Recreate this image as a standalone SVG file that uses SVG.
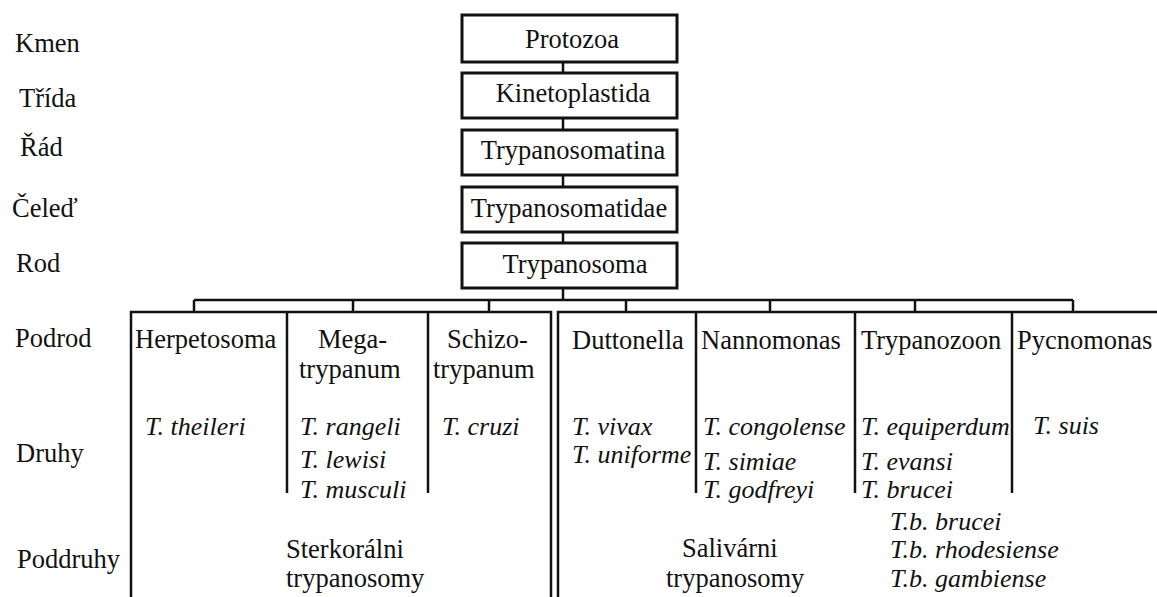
<svg xmlns="http://www.w3.org/2000/svg" width="1157" height="597" viewBox="0 0 1157 597">
<style>
.ln{stroke:#111;stroke-width:2.5;fill:none}
.box{fill:#fff;stroke:#111;stroke-width:3}
</style>
<rect width="1157" height="597" fill="#fff"/>
<g id="connectors" class="ln">
<path d="M563 62V73M563 118V130M563 175V187M563 232V243M563 288V300"/>
<path d="M194 300H1073M194 300V312M353 300V312M489 300V312M626 300V312M770 300V312M915 300V312M1073 300V312"/>
<path d="M131 597V312H551V597M287 312V493M428 312V493"/>
<path d="M558 597V312H1157M696 312V493M855 312V493M1012 312V493"/>
</g>
<g font-family="serif" font-size="26.5" fill="#111">
<g id="ranks">
<text x="15" y="52">Kmen</text>
<text x="19" y="107">Třída</text>
<text x="20" y="156">Řád</text>
<text x="12" y="217">Čeleď</text>
<text x="16" y="272">Rod</text>
<text x="15" y="347">Podrod</text>
<text x="16" y="462">Druhy</text>
<text x="17" y="568">Poddruhy</text>
</g>
<g text-anchor="middle">
<g id="protozoa"><rect class="box" x="462" y="15" width="215" height="47"/><text x="572" y="48">Protozoa</text></g>
<g id="kinetoplastida"><rect class="box" x="462" y="73" width="215" height="45"/><text x="573" y="102">Kinetoplastida</text></g>
<g id="trypanosomatina"><rect class="box" x="462" y="130" width="215" height="45"/><text x="573" y="159">Trypanosomatina</text></g>
<g id="trypanosomatidae"><rect class="box" x="462" y="187" width="215" height="45"/><text x="569" y="217">Trypanosomatidae</text></g>
<g id="trypanosoma"><rect class="box" x="462" y="243" width="215" height="45"/><text x="575" y="273">Trypanosoma</text></g>
</g>
<g id="herpetosoma"><text x="135" y="348">Herpetosoma</text><text font-style="italic" font-size="26" x="145" y="435">T. theileri</text></g>
<g id="megatrypanum"><text x="318" y="348">Mega-</text><text x="299" y="378">trypanum</text><g font-style="italic" font-size="26"><text x="300" y="435">T. rangeli</text><text x="300" y="468">T. lewisi</text><text x="300" y="498">T. musculi</text></g></g>
<g id="schizotrypanum"><text x="447" y="348">Schizo-</text><text x="433" y="378">trypanum</text><text font-style="italic" font-size="26" x="442" y="435">T. cruzi</text></g>
<g id="sterkoralni"><text x="286" y="558">Sterkorálni</text><text x="286" y="587">trypanosomy</text></g>
<g id="duttonella"><text x="572" y="349">Duttonella</text><g font-style="italic" font-size="26"><text x="572" y="435">T. vivax</text><text x="572" y="463">T. uniforme</text></g></g>
<g id="nannomonas"><text x="701" y="349">Nannomonas</text><g font-style="italic" font-size="26"><text x="703" y="435">T. congolense</text><text x="703" y="470">T. simiae</text><text x="703" y="498">T. godfreyi</text></g></g>
<g id="trypanozoon"><text x="861" y="349">Trypanozoon</text><g font-style="italic" font-size="26"><text x="861" y="435">T. equiperdum</text><text x="861" y="470">T. evansi</text><text x="861" y="498">T. brucei</text><text x="890" y="530">T.b. brucei</text><text x="890" y="558">T.b. rhodesiense</text><text x="890" y="587">T.b. gambiense</text></g></g>
<g id="pycnomonas"><text x="1017" y="349">Pycnomonas</text><text font-style="italic" font-size="26" x="1033" y="434">T. suis</text></g>
<g id="salivarni"><text x="682" y="557">Salivárni</text><text x="666" y="587">trypanosomy</text></g>
</g>
</svg>
